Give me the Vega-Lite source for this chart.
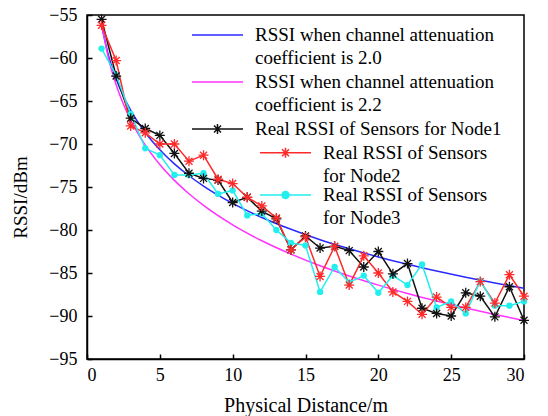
{
  "$schema": "https://vega.github.io/schema/vega-lite/v6.json",
  "width": 437,
  "height": 344,
  "autosize": {"type": "none"},
  "padding": {"left": 87, "top": 15, "right": 24, "bottom": 57},
  "background": "white",
  "config": {
    "view": {"stroke": "black", "strokeWidth": 1.5},
    "font": "Liberation Serif",
    "style": {"guide-label": {"lineHeight": 23}},
    "axis": {
      "grid": false, "domainColor": "black", "domainWidth": 1.5,
      "tickColor": "black", "tickWidth": 1.5, "tickSize": -5,
      "labelFont": "Liberation Serif", "labelFontSize": 18, "labelColor": "black",
      "titleFont": "Liberation Serif", "titleFontWeight": "normal", "titleColor": "black"
    },
    "legend": {"labelFont": "Liberation Serif", "labelFontSize": 19, "labelColor": "black", "labelLimit": 600, "title": null, "orient": "none", "padding": 0, "symbolSize": 100, "symbolStrokeWidth": 1.5, "symbolOffset": 0, "labelOffset": 45, "rowPadding": 4, "symbolOpacity": 1}
  },
  "resolve": {"scale": {"stroke": "independent"}, "legend": {"stroke": "independent"}},
  "data": {"values": [
    {"series": "RSSI when channel attenuation coefficient is 2.0", "x": 1, "y": -56.2},
    {"series": "RSSI when channel attenuation coefficient is 2.0", "x": 1.5, "y": -59.85},
    {"series": "RSSI when channel attenuation coefficient is 2.0", "x": 2, "y": -62.43},
    {"series": "RSSI when channel attenuation coefficient is 2.0", "x": 2.5, "y": -64.44},
    {"series": "RSSI when channel attenuation coefficient is 2.0", "x": 3, "y": -66.08},
    {"series": "RSSI when channel attenuation coefficient is 2.0", "x": 4, "y": -68.66},
    {"series": "RSSI when channel attenuation coefficient is 2.0", "x": 5, "y": -70.67},
    {"series": "RSSI when channel attenuation coefficient is 2.0", "x": 6, "y": -72.31},
    {"series": "RSSI when channel attenuation coefficient is 2.0", "x": 7, "y": -73.69},
    {"series": "RSSI when channel attenuation coefficient is 2.0", "x": 8, "y": -74.89},
    {"series": "RSSI when channel attenuation coefficient is 2.0", "x": 10, "y": -76.9},
    {"series": "RSSI when channel attenuation coefficient is 2.0", "x": 12, "y": -78.54},
    {"series": "RSSI when channel attenuation coefficient is 2.0", "x": 14, "y": -79.92},
    {"series": "RSSI when channel attenuation coefficient is 2.0", "x": 16, "y": -81.13},
    {"series": "RSSI when channel attenuation coefficient is 2.0", "x": 18, "y": -82.18},
    {"series": "RSSI when channel attenuation coefficient is 2.0", "x": 20, "y": -83.13},
    {"series": "RSSI when channel attenuation coefficient is 2.0", "x": 22, "y": -83.99},
    {"series": "RSSI when channel attenuation coefficient is 2.0", "x": 24, "y": -84.77},
    {"series": "RSSI when channel attenuation coefficient is 2.0", "x": 26, "y": -85.49},
    {"series": "RSSI when channel attenuation coefficient is 2.0", "x": 28, "y": -86.16},
    {"series": "RSSI when channel attenuation coefficient is 2.0", "x": 30, "y": -86.78},
    {"series": "RSSI when channel attenuation coefficient is 2.2", "x": 1, "y": -56.1},
    {"series": "RSSI when channel attenuation coefficient is 2.2", "x": 1.5, "y": -60.2},
    {"series": "RSSI when channel attenuation coefficient is 2.2", "x": 2, "y": -63.11},
    {"series": "RSSI when channel attenuation coefficient is 2.2", "x": 2.5, "y": -65.37},
    {"series": "RSSI when channel attenuation coefficient is 2.2", "x": 3, "y": -67.22},
    {"series": "RSSI when channel attenuation coefficient is 2.2", "x": 4, "y": -70.13},
    {"series": "RSSI when channel attenuation coefficient is 2.2", "x": 5, "y": -72.39},
    {"series": "RSSI when channel attenuation coefficient is 2.2", "x": 6, "y": -74.23},
    {"series": "RSSI when channel attenuation coefficient is 2.2", "x": 7, "y": -75.79},
    {"series": "RSSI when channel attenuation coefficient is 2.2", "x": 8, "y": -77.14},
    {"series": "RSSI when channel attenuation coefficient is 2.2", "x": 10, "y": -79.4},
    {"series": "RSSI when channel attenuation coefficient is 2.2", "x": 12, "y": -81.25},
    {"series": "RSSI when channel attenuation coefficient is 2.2", "x": 14, "y": -82.8},
    {"series": "RSSI when channel attenuation coefficient is 2.2", "x": 16, "y": -84.16},
    {"series": "RSSI when channel attenuation coefficient is 2.2", "x": 18, "y": -85.35},
    {"series": "RSSI when channel attenuation coefficient is 2.2", "x": 20, "y": -86.41},
    {"series": "RSSI when channel attenuation coefficient is 2.2", "x": 22, "y": -87.38},
    {"series": "RSSI when channel attenuation coefficient is 2.2", "x": 24, "y": -88.26},
    {"series": "RSSI when channel attenuation coefficient is 2.2", "x": 26, "y": -89.07},
    {"series": "RSSI when channel attenuation coefficient is 2.2", "x": 28, "y": -89.82},
    {"series": "RSSI when channel attenuation coefficient is 2.2", "x": 30, "y": -90.52},
    {"series": "Real RSSI of Sensors for Node1", "x": 1, "y": -55.5},
    {"series": "Real RSSI of Sensors for Node1", "x": 2, "y": -62.1},
    {"series": "Real RSSI of Sensors for Node1", "x": 3, "y": -67.0},
    {"series": "Real RSSI of Sensors for Node1", "x": 4, "y": -68.2},
    {"series": "Real RSSI of Sensors for Node1", "x": 5, "y": -69.0},
    {"series": "Real RSSI of Sensors for Node1", "x": 6, "y": -71.1},
    {"series": "Real RSSI of Sensors for Node1", "x": 7, "y": -73.4},
    {"series": "Real RSSI of Sensors for Node1", "x": 8, "y": -74.0},
    {"series": "Real RSSI of Sensors for Node1", "x": 9, "y": -74.2},
    {"series": "Real RSSI of Sensors for Node1", "x": 10, "y": -76.8},
    {"series": "Real RSSI of Sensors for Node1", "x": 11, "y": -76.2},
    {"series": "Real RSSI of Sensors for Node1", "x": 12, "y": -77.8},
    {"series": "Real RSSI of Sensors for Node1", "x": 13, "y": -78.7},
    {"series": "Real RSSI of Sensors for Node1", "x": 14, "y": -82.3},
    {"series": "Real RSSI of Sensors for Node1", "x": 15, "y": -80.7},
    {"series": "Real RSSI of Sensors for Node1", "x": 16, "y": -82.1},
    {"series": "Real RSSI of Sensors for Node1", "x": 17, "y": -81.9},
    {"series": "Real RSSI of Sensors for Node1", "x": 18, "y": -82.4},
    {"series": "Real RSSI of Sensors for Node1", "x": 19, "y": -84.3},
    {"series": "Real RSSI of Sensors for Node1", "x": 20, "y": -82.5},
    {"series": "Real RSSI of Sensors for Node1", "x": 21, "y": -85.1},
    {"series": "Real RSSI of Sensors for Node1", "x": 22, "y": -83.9},
    {"series": "Real RSSI of Sensors for Node1", "x": 23, "y": -89.1},
    {"series": "Real RSSI of Sensors for Node1", "x": 24, "y": -89.7},
    {"series": "Real RSSI of Sensors for Node1", "x": 25, "y": -90.0},
    {"series": "Real RSSI of Sensors for Node1", "x": 26, "y": -87.3},
    {"series": "Real RSSI of Sensors for Node1", "x": 27, "y": -87.7},
    {"series": "Real RSSI of Sensors for Node1", "x": 28, "y": -90.1},
    {"series": "Real RSSI of Sensors for Node1", "x": 29, "y": -86.6},
    {"series": "Real RSSI of Sensors for Node1", "x": 30, "y": -90.5},
    {"series": "Real RSSI of Sensors for Node2", "x": 1, "y": -56.2},
    {"series": "Real RSSI of Sensors for Node2", "x": 2, "y": -60.3},
    {"series": "Real RSSI of Sensors for Node2", "x": 3, "y": -67.9},
    {"series": "Real RSSI of Sensors for Node2", "x": 4, "y": -68.7},
    {"series": "Real RSSI of Sensors for Node2", "x": 5, "y": -70.0},
    {"series": "Real RSSI of Sensors for Node2", "x": 6, "y": -70.0},
    {"series": "Real RSSI of Sensors for Node2", "x": 7, "y": -72.0},
    {"series": "Real RSSI of Sensors for Node2", "x": 8, "y": -71.3},
    {"series": "Real RSSI of Sensors for Node2", "x": 9, "y": -74.1},
    {"series": "Real RSSI of Sensors for Node2", "x": 10, "y": -74.6},
    {"series": "Real RSSI of Sensors for Node2", "x": 11, "y": -76.2},
    {"series": "Real RSSI of Sensors for Node2", "x": 12, "y": -77.2},
    {"series": "Real RSSI of Sensors for Node2", "x": 13, "y": -78.6},
    {"series": "Real RSSI of Sensors for Node2", "x": 14, "y": -82.3},
    {"series": "Real RSSI of Sensors for Node2", "x": 15, "y": -80.8},
    {"series": "Real RSSI of Sensors for Node2", "x": 16, "y": -85.4},
    {"series": "Real RSSI of Sensors for Node2", "x": 17, "y": -81.9},
    {"series": "Real RSSI of Sensors for Node2", "x": 18, "y": -86.4},
    {"series": "Real RSSI of Sensors for Node2", "x": 19, "y": -83.0},
    {"series": "Real RSSI of Sensors for Node2", "x": 20, "y": -85.0},
    {"series": "Real RSSI of Sensors for Node2", "x": 21, "y": -87.2},
    {"series": "Real RSSI of Sensors for Node2", "x": 22, "y": -88.3},
    {"series": "Real RSSI of Sensors for Node2", "x": 23, "y": -89.8},
    {"series": "Real RSSI of Sensors for Node2", "x": 24, "y": -87.8},
    {"series": "Real RSSI of Sensors for Node2", "x": 25, "y": -89.0},
    {"series": "Real RSSI of Sensors for Node2", "x": 26, "y": -89.0},
    {"series": "Real RSSI of Sensors for Node2", "x": 27, "y": -86.0},
    {"series": "Real RSSI of Sensors for Node2", "x": 28, "y": -88.5},
    {"series": "Real RSSI of Sensors for Node2", "x": 29, "y": -85.2},
    {"series": "Real RSSI of Sensors for Node2", "x": 30, "y": -87.7},
    {"series": "Real RSSI of Sensors for Node3", "x": 1, "y": -58.9},
    {"series": "Real RSSI of Sensors for Node3", "x": 2, "y": -62.0},
    {"series": "Real RSSI of Sensors for Node3", "x": 3, "y": -66.5},
    {"series": "Real RSSI of Sensors for Node3", "x": 4, "y": -70.5},
    {"series": "Real RSSI of Sensors for Node3", "x": 5, "y": -71.3},
    {"series": "Real RSSI of Sensors for Node3", "x": 6, "y": -73.6},
    {"series": "Real RSSI of Sensors for Node3", "x": 7, "y": -73.6},
    {"series": "Real RSSI of Sensors for Node3", "x": 8, "y": -73.4},
    {"series": "Real RSSI of Sensors for Node3", "x": 9, "y": -75.8},
    {"series": "Real RSSI of Sensors for Node3", "x": 10, "y": -75.4},
    {"series": "Real RSSI of Sensors for Node3", "x": 11, "y": -78.3},
    {"series": "Real RSSI of Sensors for Node3", "x": 12, "y": -78.1},
    {"series": "Real RSSI of Sensors for Node3", "x": 13, "y": -80.0},
    {"series": "Real RSSI of Sensors for Node3", "x": 14, "y": -81.5},
    {"series": "Real RSSI of Sensors for Node3", "x": 15, "y": -81.8},
    {"series": "Real RSSI of Sensors for Node3", "x": 16, "y": -87.2},
    {"series": "Real RSSI of Sensors for Node3", "x": 17, "y": -84.3},
    {"series": "Real RSSI of Sensors for Node3", "x": 18, "y": -86.1},
    {"series": "Real RSSI of Sensors for Node3", "x": 19, "y": -85.3},
    {"series": "Real RSSI of Sensors for Node3", "x": 20, "y": -87.3},
    {"series": "Real RSSI of Sensors for Node3", "x": 21, "y": -85.3},
    {"series": "Real RSSI of Sensors for Node3", "x": 22, "y": -86.4},
    {"series": "Real RSSI of Sensors for Node3", "x": 23, "y": -84.0},
    {"series": "Real RSSI of Sensors for Node3", "x": 24, "y": -89.0},
    {"series": "Real RSSI of Sensors for Node3", "x": 25, "y": -88.3},
    {"series": "Real RSSI of Sensors for Node3", "x": 26, "y": -89.7},
    {"series": "Real RSSI of Sensors for Node3", "x": 27, "y": -85.9},
    {"series": "Real RSSI of Sensors for Node3", "x": 28, "y": -88.8},
    {"series": "Real RSSI of Sensors for Node3", "x": 29, "y": -88.8},
    {"series": "Real RSSI of Sensors for Node3", "x": 30, "y": -88.3}
  ]},
  "encoding": {
    "x": {"field": "x", "type": "quantitative", "scale": {"domain": [0, 30], "nice": false},
      "axis": {"values": [0, 5, 10, 15, 20, 25, 30], "title": "Physical Distance/m", "titleFontSize": 20,
        "labelFont": "Liberation Serif", "labelFontSize": 18,
        "labelPadding": 12, "titleBaseline": "alphabetic", "titleY": 52}},
    "y": {"field": "y", "type": "quantitative", "scale": {"domain": [-95, -55], "nice": false, "zero": false},
      "axis": {"values": [-95, -90, -85, -80, -75, -70, -65, -60, -55], "title": "RSSI/dBm", "titleFontSize": 19,
        "labelFont": "Liberation Serif", "labelFontSize": 18,
        "labelPadding": 15, "titleAngle": -90, "titleBaseline": "alphabetic", "titleAlign": "center", "titleX": -61, "titleY": 182}},
    "color": {"field": "series", "type": "nominal",
      "scale": {"domain": ["RSSI when channel attenuation coefficient is 2.0", "RSSI when channel attenuation coefficient is 2.2", "Real RSSI of Sensors for Node1", "Real RSSI of Sensors for Node2", "Real RSSI of Sensors for Node3"],
        "range": ["#2a2aff", "#ff33ff", "#111111", "#ff2a2a", "#22eeee"]},
      "legend": {"legendX": 104, "legendY": 10.5, "symbolFillColor": "transparent",
        "values": ["RSSI when channel attenuation coefficient is 2.0", "RSSI when channel attenuation coefficient is 2.2", "Real RSSI of Sensors for Node1"],
        "labelExpr": "indexof(datum.label, 'Real') == 0 ? datum.label : ['RSSI when channel attenuation', replace(datum.label, 'RSSI when channel attenuation ', '')]"}}
  },
  "layer": [
    {
      "transform": [{"filter": "indexof(datum.series, 'coefficient') >= 0"}],
      "mark": {"type": "line", "interpolate": "monotone", "strokeWidth": 1.5}
    },
    {
      "transform": [{"filter": "indexof(datum.series, 'Node') >= 0"}],
      "mark": {"type": "line", "strokeWidth": 1.5},
      "encoding": {"order": {"field": "x"}}
    },
    {
      "transform": [{"filter": "datum.series == 'Real RSSI of Sensors for Node3'"}],
      "mark": {"type": "point", "shape": "circle", "filled": true, "size": 40, "opacity": 1}
    },
    {
      "transform": [{"filter": "indexof(datum.series, 'Node1') >= 0 || indexof(datum.series, 'Node2') >= 0"}],
      "mark": {"type": "point", "shape": "M-1,0L1,0M0,-1L0,1M-0.7,-0.7L0.7,0.7M-0.7,0.7L0.7,-0.7", "filled": false, "size": 100, "strokeWidth": 1.3, "opacity": 1}
    },
    {
      "mark": {"type": "point", "filled": false, "strokeWidth": 1.5, "opacity": 0},
      "encoding": {
        "shape": {"field": "series", "type": "nominal",
          "scale": {"domain": ["RSSI when channel attenuation coefficient is 2.0", "RSSI when channel attenuation coefficient is 2.2", "Real RSSI of Sensors for Node1", "Real RSSI of Sensors for Node2", "Real RSSI of Sensors for Node3"],
            "range": ["M-1.7,0L8.5,0", "M-1.7,0L8.5,0", "M-1.7,0L8.5,0M3.4,-1L3.4,1M2.7,-0.7L4.1,0.7M2.7,0.7L4.1,-0.7", "M-1.7,0L8.5,0M3.4,-1L3.4,1M2.7,-0.7L4.1,0.7M2.7,0.7L4.1,-0.7", "M-1.7,0L8.5,0"]},
          "legend": {"legendX": 104, "legendY": 10.5, "symbolFillColor": "transparent",
            "values": ["RSSI when channel attenuation coefficient is 2.0", "RSSI when channel attenuation coefficient is 2.2", "Real RSSI of Sensors for Node1"],
            "labelExpr": "indexof(datum.label, 'Real') == 0 ? datum.label : ['RSSI when channel attenuation', replace(datum.label, 'RSSI when channel attenuation ', '')]"}}
      }
    },
    {
      "transform": [{"filter": "datum.x < 0"}],
      "mark": {"type": "point", "filled": false, "strokeWidth": 1.5, "size": 100, "shape": "M-1.7,0L8.5,0M3.4,-1L3.4,1M2.7,-0.7L4.1,0.7M2.7,0.7L4.1,-0.7"},
      "encoding": {
        "stroke": {"field": "series", "type": "nominal",
          "scale": {"domain": ["Real RSSI of Sensors for Node2"], "range": ["#ff2a2a"]},
          "legend": {"legendX": 172, "legendY": 128.2, "symbolFillColor": "transparent",
            "symbolType": "M-1.7,0L8.5,0M3.4,-1L3.4,1M2.7,-0.7L4.1,0.7M2.7,0.7L4.1,-0.7",
            "labelExpr": "['Real RSSI of Sensors', 'for Node2']"}}
      }
    },
    {
      "transform": [{"filter": "datum.x < 0"}],
      "mark": {"type": "point", "filled": false, "strokeWidth": 1.5, "size": 100, "shape": "M-1.7,0L8.5,0M4.1,0A0.7,0.7 0 1,1 2.7,0A0.7,0.7 0 1,1 4.1,0ZM3.8,0A0.4,0.4 0 1,1 3.0,0A0.4,0.4 0 1,1 3.8,0ZM3.55,0A0.15,0.15 0 1,1 3.25,0A0.15,0.15 0 1,1 3.55,0Z"},
      "encoding": {
        "stroke": {"field": "series", "type": "nominal",
          "scale": {"domain": ["Real RSSI of Sensors for Node3"], "range": ["#22eeee"]},
          "legend": {"legendX": 172, "legendY": 170.5, "symbolFillColor": "#22eeee",
            "symbolType": "M-1.7,0L8.5,0M4.1,0A0.7,0.7 0 1,1 2.7,0A0.7,0.7 0 1,1 4.1,0ZM3.8,0A0.4,0.4 0 1,1 3.0,0A0.4,0.4 0 1,1 3.8,0ZM3.55,0A0.15,0.15 0 1,1 3.25,0A0.15,0.15 0 1,1 3.55,0Z",
            "labelExpr": "['Real RSSI of Sensors', 'for Node3']"}}
      }
    }
  ]
}
